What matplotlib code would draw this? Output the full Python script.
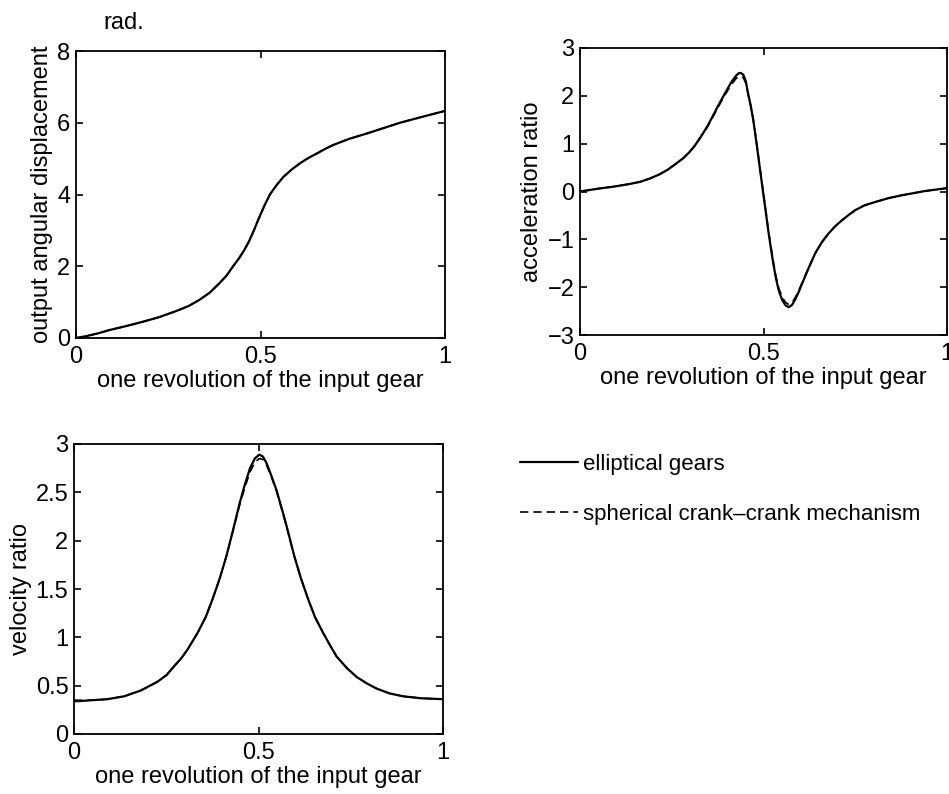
import matplotlib
matplotlib.use("Agg")
import matplotlib.pyplot as plt

# --- DATA ---
# output angular displacement (rad) vs fraction of one input revolution
disp_x = [0.0, 0.027, 0.06, 0.09, 0.135, 0.18, 0.225, 0.271, 0.305, 0.334, 0.362, 0.388,
          0.408, 0.425, 0.441, 0.456, 0.47, 0.482, 0.494, 0.51, 0.526, 0.545, 0.562,
          0.585, 0.607, 0.63, 0.652, 0.675, 0.697, 0.74, 0.788, 0.83, 0.878, 0.94, 1.0]
disp_elliptical = [0.0, 0.05, 0.13, 0.22, 0.33, 0.45, 0.58, 0.75, 0.89, 1.06, 1.26, 1.52,
                   1.74, 1.99, 2.21, 2.45, 2.72, 3.0, 3.30, 3.68, 4.01, 4.28, 4.49,
                   4.70, 4.87, 5.02, 5.14, 5.27, 5.38, 5.55, 5.70, 5.84, 6.00, 6.17, 6.33]
disp_spherical = [0.0, 0.05, 0.13, 0.22, 0.33, 0.45, 0.58, 0.75, 0.89, 1.06, 1.26, 1.52,
                  1.74, 1.99, 2.21, 2.44, 2.71, 2.99, 3.29, 3.67, 4.00, 4.28, 4.49,
                  4.70, 4.87, 5.02, 5.14, 5.27, 5.38, 5.55, 5.70, 5.84, 6.00, 6.17, 6.33]

# acceleration ratio
acc_x = [0.0, 0.05, 0.09, 0.13, 0.163, 0.19, 0.217, 0.24, 0.263, 0.282, 0.299, 0.313,
         0.326, 0.338, 0.349, 0.36, 0.370, 0.384, 0.397, 0.411, 0.425, 0.432, 0.438,
         0.445, 0.452, 0.458, 0.465, 0.472, 0.479, 0.486, 0.493, 0.500, 0.507, 0.513,
         0.520, 0.527, 0.534, 0.542, 0.551, 0.560, 0.569, 0.578, 0.587, 0.596, 0.605,
         0.623, 0.641, 0.659, 0.677, 0.695, 0.714, 0.732, 0.750, 0.775, 0.804, 0.84,
         0.876, 0.94, 1.0]
acc_elliptical = [0.0, 0.06, 0.10, 0.15, 0.20, 0.27, 0.36, 0.46, 0.59, 0.70, 0.83, 0.96,
                  1.11, 1.25, 1.39, 1.55, 1.70, 1.90, 2.08, 2.27, 2.42, 2.47, 2.48,
                  2.44, 2.30, 2.05, 1.80, 1.50, 1.12, 0.72, 0.32, -0.08, -0.47, -0.82,
                  -1.18, -1.52, -1.82, -2.08, -2.27, -2.38, -2.42, -2.37, -2.25, -2.10, -1.93,
                  -1.60, -1.29, -1.06, -0.88, -0.73, -0.60, -0.49, -0.39, -0.29, -0.22, -0.14,
                  -0.08, 0.01, 0.07]
acc_spherical = [0.0, 0.06, 0.10, 0.15, 0.20, 0.27, 0.36, 0.46, 0.59, 0.70, 0.83, 0.96,
                 1.10, 1.24, 1.37, 1.53, 1.67, 1.87, 2.04, 2.22, 2.36, 2.40, 2.41,
                 2.38, 2.26, 2.03, 1.80, 1.51, 1.14, 0.75, 0.35, -0.05, -0.44, -0.79,
                 -1.14, -1.48, -1.78, -2.03, -2.21, -2.32, -2.36, -2.32, -2.21, -2.07, -1.91,
                 -1.59, -1.29, -1.06, -0.88, -0.73, -0.60, -0.49, -0.39, -0.29, -0.22, -0.14,
                 -0.08, 0.01, 0.07]

# velocity ratio
vel_x = [0.0, 0.014, 0.05, 0.09, 0.136, 0.181, 0.226, 0.251, 0.271, 0.29, 0.307, 0.334,
         0.357, 0.375, 0.395, 0.413, 0.431, 0.449, 0.463, 0.477, 0.49, 0.502, 0.512,
         0.522, 0.535, 0.549, 0.567, 0.579, 0.597, 0.615, 0.635, 0.653, 0.676, 0.695,
         0.712, 0.74, 0.766, 0.795, 0.820, 0.855, 0.892, 0.94, 1.0]
vel_elliptical = [0.34, 0.34, 0.35, 0.36, 0.39, 0.45, 0.54, 0.61, 0.70, 0.78, 0.87, 1.04,
                  1.21, 1.39, 1.61, 1.84, 2.11, 2.39, 2.58, 2.75, 2.85, 2.89, 2.87,
                  2.80, 2.67, 2.52, 2.28, 2.11, 1.84, 1.61, 1.39, 1.21, 1.04, 0.91,
                  0.80, 0.68, 0.59, 0.52, 0.47, 0.42, 0.39, 0.37, 0.36]
vel_spherical = [0.35, 0.35, 0.35, 0.36, 0.39, 0.45, 0.54, 0.61, 0.70, 0.78, 0.87, 1.04,
                 1.21, 1.39, 1.61, 1.84, 2.10, 2.37, 2.55, 2.71, 2.81, 2.85, 2.84,
                 2.78, 2.66, 2.51, 2.27, 2.10, 1.84, 1.61, 1.39, 1.21, 1.04, 0.91,
                 0.80, 0.68, 0.59, 0.52, 0.47, 0.42, 0.39, 0.37, 0.36]

xlabel = "one revolution of the input gear"
legend_labels = ["elliptical gears", "spherical crank\u2013crank mechanism"]

# --- STYLE ---
plt.rcParams['font.family'] = ['Liberation Sans', 'DejaVu Sans']
plt.rcParams['font.size'] = 17
plt.rcParams['axes.linewidth'] = 1.3

W, H = 949, 794
fig = plt.figure(figsize=(W / 100, H / 100), dpi=100)


def add_axes(px_left, px_top, px_right, px_bottom):
    return fig.add_axes([px_left / W, 1 - px_bottom / H,
                         (px_right - px_left) / W, (px_bottom - px_top) / H])


def style(ax, ylim, yticks, ylabel, yticklabels=None):
    ax.set_xlim(0, 1)
    ax.set_ylim(*ylim)
    ax.set_xticks([0, 0.5, 1])
    ax.set_xticklabels(["0", "0.5", "1"])
    ax.set_yticks(yticks)
    if yticklabels is not None:
        ax.set_yticklabels(yticklabels)
    ax.tick_params(direction='in', top=True, right=True, length=5, width=1.2)
    ax.tick_params(axis='x', pad=6)
    ax.tick_params(axis='y', pad=4)
    ax.set_xlabel(xlabel, labelpad=1)
    ax.set_ylabel(ylabel, labelpad=3)


solid = dict(color='black', lw=1.6, solid_capstyle='round', solid_joinstyle='round')
dashed = dict(color='black', lw=1.2, ls=(0, (5, 3)))

# top-left: displacement
ax1 = add_axes(76, 51, 445, 338)
l1, = ax1.plot(disp_x, disp_elliptical, **solid)
l2, = ax1.plot(disp_x, disp_spherical, **dashed)
style(ax1, (0, 8), [0, 2, 4, 6, 8], "output angular displacement")
fig.text(103 / W, 1 - 23 / H, "rad.", ha='left', va='center')

# top-right: acceleration
ax2 = add_axes(580, 48, 947, 335)
ax2.plot(acc_x, acc_elliptical, **solid)
ax2.plot(acc_x, acc_spherical, **dashed)
style(ax2, (-3, 3), [-3, -2, -1, 0, 1, 2, 3], "acceleration ratio")

# bottom-left: velocity
ax3 = add_axes(74, 444, 443, 734)
ax3.plot(vel_x, vel_elliptical, **solid)
ax3.plot(vel_x, vel_spherical, **dashed)
style(ax3, (0, 3), [0, 0.5, 1, 1.5, 2, 2.5, 3], "velocity ratio",
      ["0", "0.5", "1", "1.5", "2", "2.5", "3"])

# legend in the empty bottom-right quadrant
fig.legend([l1, l2], legend_labels, loc='upper left',
           bbox_to_anchor=(500 / W, 1 - 434 / H), frameon=False,
           handlelength=2.6, handletextpad=0.25, labelspacing=1.3,
           fontsize=16)

fig.savefig("out.png", dpi=100)
